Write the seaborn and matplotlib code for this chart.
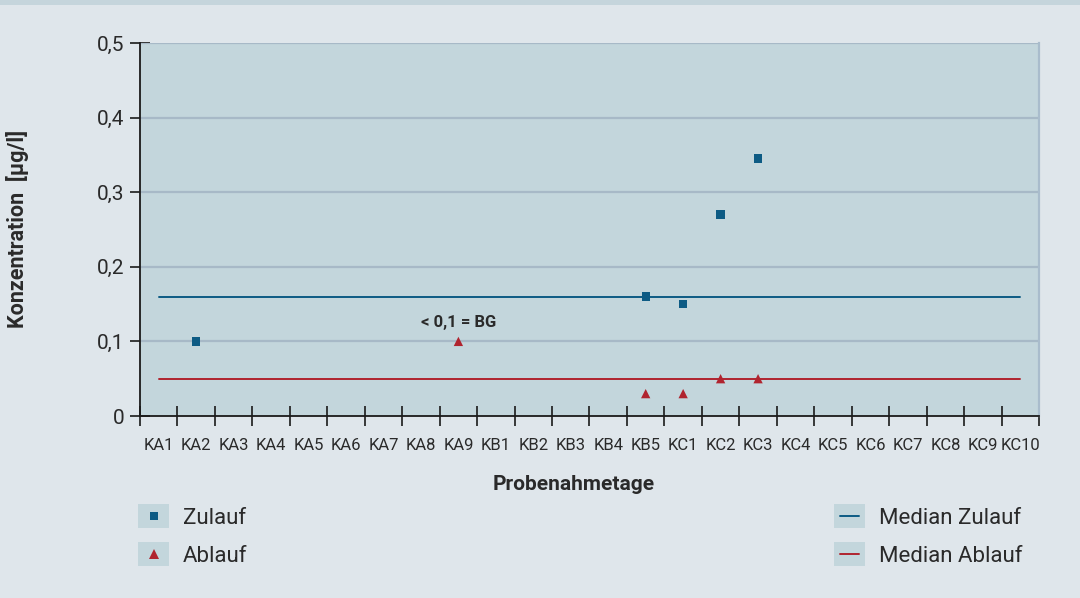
import matplotlib
matplotlib.use("Agg")
import matplotlib.pyplot as plt
from matplotlib.patches import Rectangle
from matplotlib.lines import Line2D
from matplotlib.ticker import FixedLocator, FuncFormatter
import numpy as np
import pandas as pd
import seaborn as sns

# Sampling days
days = ["KA1", "KA2", "KA3", "KA4", "KA5", "KA6", "KA7", "KA8", "KA9",
        "KB1", "KB2", "KB3", "KB4", "KB5",
        "KC1", "KC2", "KC3", "KC4", "KC5", "KC6", "KC7", "KC8", "KC9", "KC10"]

# Measured concentrations (µg/l)
zulauf_days = ["KA2", "KB5", "KC1", "KC2", "KC3"]
zulauf_values = [0.10, 0.16, 0.15, 0.27, 0.345]
ablauf_days = ["KA9", "KB5", "KC1", "KC2", "KC3"]
ablauf_values = [0.10, 0.03, 0.03, 0.05, 0.05]

median_zulauf = 0.16
median_ablauf = 0.05

y_ticks = [0, 0.1, 0.2, 0.3, 0.4, 0.5]

FIG_BG = "#dfe6eb"
AX_BG = "#c3d6dc"
GRID = "#a7b9c7"
C_ZU = "#0d5b84"
C_AB = "#b0242f"
TXT = "#2a2a2a"

sns.set_theme(style="white")
plt.rcParams["font.family"] = ["Roboto", "DejaVu Sans"]

pos = {d: i for i, d in enumerate(days)}
zu = pd.DataFrame({"x": [pos[d] for d in zulauf_days], "y": zulauf_values})
ab = pd.DataFrame({"x": [pos[d] for d in ablauf_days], "y": ablauf_values})
med = pd.DataFrame({
    "x": [0, len(days) - 1, 0, len(days) - 1],
    "y": [median_zulauf, median_zulauf, median_ablauf, median_ablauf],
    "s": ["Median Zulauf", "Median Zulauf", "Median Ablauf", "Median Ablauf"],
})

fig = plt.figure(figsize=(10.8, 5.98), dpi=100, facecolor=FIG_BG)
ax = fig.add_axes([140 / 1080, 1 - 416 / 598, 899 / 1080, 373 / 598])
ax.set_facecolor(AX_BG)

# top band
fig.add_artist(Rectangle((0, 1 - 5 / 598), 1, 5 / 598, transform=fig.transFigure,
                         facecolor="#c5d5dc", edgecolor="none", zorder=0))

# horizontal grid
for v in y_ticks[1:]:
    ax.axhline(v, color=GRID, lw=1.6, zorder=1)

sns.lineplot(data=med, x="x", y="y", hue="s",
             palette={"Median Zulauf": C_ZU, "Median Ablauf": C_AB},
             lw=1.4, legend=False, ax=ax, zorder=2)
sns.scatterplot(data=zu, x="x", y="y", marker="s", s=36, color=C_ZU,
                edgecolor="none", ax=ax, zorder=3)
sns.scatterplot(data=ab, x="x", y="y", marker="^", s=45, color=C_AB,
                edgecolor="none", ax=ax, zorder=3)

ax.text(pos["KA9"], 0.125, "< 0,1 = BG", ha="center", va="center",
        fontsize=12, fontweight="bold", color=TXT)

ax.set_xlim(-0.5, len(days) - 0.5)
ax.set_ylim(0, 0.5)

# x ticks: marks at boundaries, labels at centres
ax.xaxis.set_major_locator(FixedLocator(np.arange(-0.5, len(days), 1.0)))
ax.xaxis.set_minor_locator(FixedLocator(np.arange(len(days))))
ax.set_xticklabels([], minor=False)
ax.set_xticklabels(days, minor=True)
ax.tick_params(axis="x", which="major", direction="inout", length=14, width=1.2,
               color="#1a1a1a", bottom=True)
ax.tick_params(axis="x", which="minor", length=0, labelsize=12, pad=16, labelcolor=TXT)

ax.set_yticks(y_ticks)
ax.yaxis.set_major_formatter(FuncFormatter(lambda v, p: "0" if v == 0 else f"{v:.1f}".replace(".", ",")))
ax.tick_params(axis="y", direction="inout", length=14, width=1.2, color="#1a1a1a",
               left=True, labelsize=15, pad=4, labelcolor=TXT)

for s in ["left", "bottom"]:
    ax.spines[s].set_color("#1a1a1a")
    ax.spines[s].set_linewidth(1.3)
ax.spines["top"].set_visible(False)
ax.spines["right"].set_color("#a9bccc")
ax.spines["right"].set_linewidth(1.6)

ax.set_xlabel("")
ax.set_ylabel("")
fig.text(574 / 1080, 1 - 484 / 598, "Probenahmetage", ha="center", va="center",
         fontsize=15, fontweight="bold", color=TXT)
fig.text(18 / 1080, 1 - 229 / 598, "Konzentration  [µg/l]", ha="center", va="center",
         rotation=90, fontsize=15.5, fontweight="bold", color=TXT)

# legend entries
def legend_entry(x0, yc, label, marker=None, color=None, msize=6):
    w, h = 31, 24
    fig.add_artist(Rectangle((x0 / 1080, 1 - (yc + h / 2) / 598), w / 1080, h / 598,
                             transform=fig.transFigure, facecolor=AX_BG, edgecolor="none"))
    cx = (x0 + w / 2) / 1080
    cy = 1 - yc / 598
    if marker:
        fig.add_artist(Line2D([cx], [cy], transform=fig.transFigure, marker=marker,
                              markersize=msize, color=color, markeredgewidth=0, ls="none"))
    else:
        fig.add_artist(Line2D([(x0 + 6) / 1080, (x0 + w - 6) / 1080], [cy, cy],
                              transform=fig.transFigure, color=color, lw=1.4))
    fig.text((x0 + 45) / 1080, 1 - (yc + 3) / 598, label, ha="left", va="center",
             fontsize=16, color=TXT)

legend_entry(138, 516, "Zulauf", "s", C_ZU, 5.5)
legend_entry(138, 554, "Ablauf", "^", C_AB, 7)
legend_entry(834, 516, "Median Zulauf", None, C_ZU)
legend_entry(834, 554, "Median Ablauf", None, C_AB)

fig.savefig("out.png", dpi=100, facecolor=FIG_BG)
